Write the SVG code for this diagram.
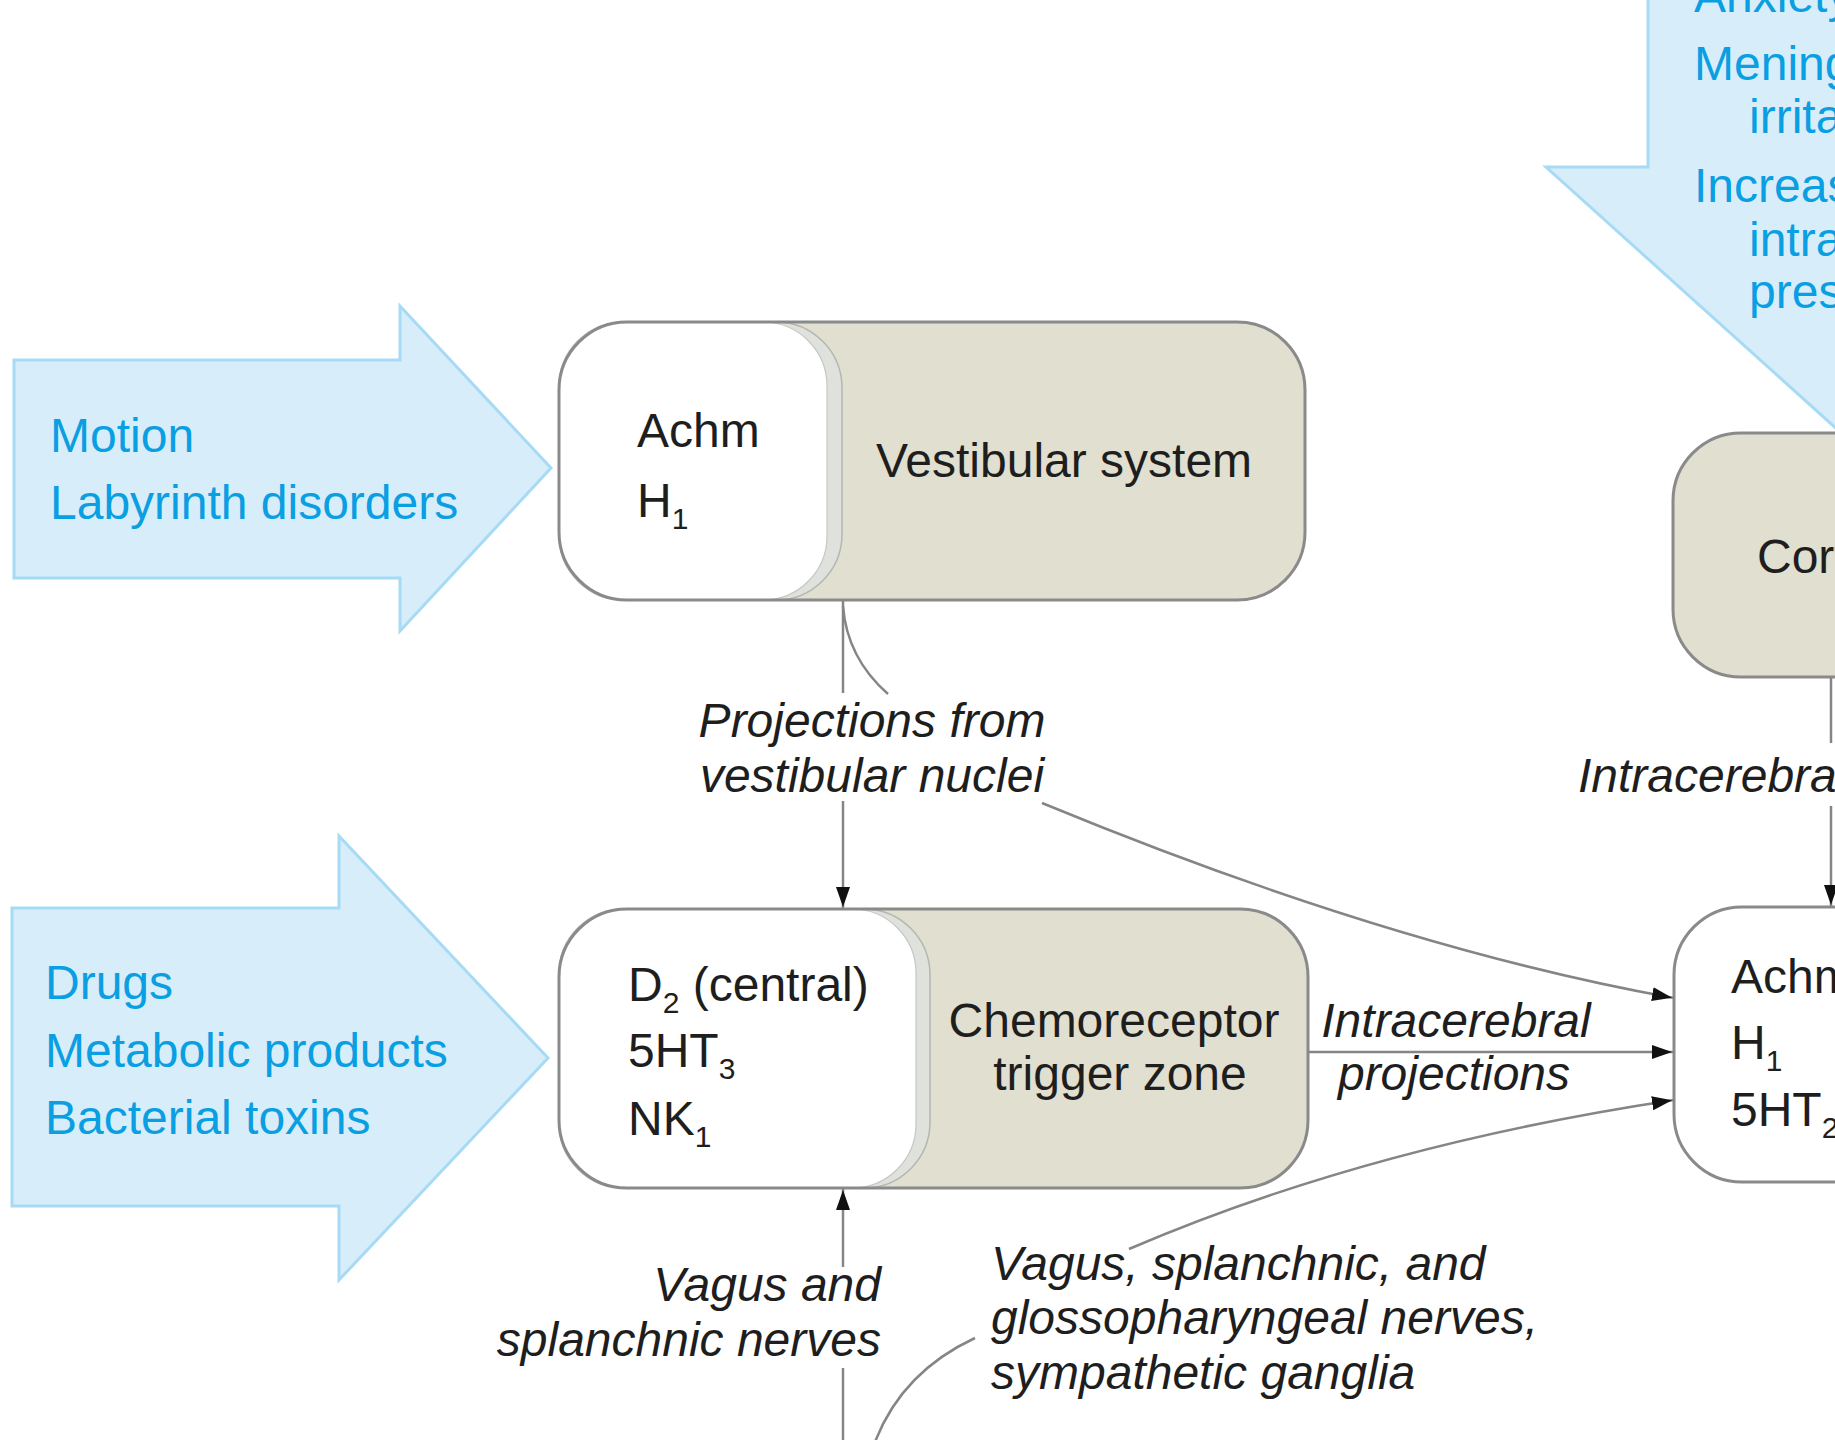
<svg xmlns="http://www.w3.org/2000/svg" width="1835" height="1440" viewBox="0 0 1835 1440">
<defs>
<style>
.bg{fill:#ffffff}
.barrow{fill:#d7eefa;stroke:#a6daf5;stroke-width:3}
.btxt{font-family:"Liberation Sans",Arial,sans-serif;font-size:48px;fill:#0a9ee2}
.ktxt{font-family:"Liberation Sans",Arial,sans-serif;font-size:48px;fill:#1e1e1e}
.itxt{font-family:"Liberation Sans",Arial,sans-serif;font-size:48px;font-style:italic;fill:#1e1e1e}
.tan{fill:#e1dfcf}
.band{fill:#dfe1dd;stroke:#b4b6b0;stroke-width:1.5}
.white{fill:#ffffff;stroke:#c6c8c3;stroke-width:1.2}
.outline{fill:none;stroke:#8a8a8a;stroke-width:3}
.conn{fill:none;stroke:#858585;stroke-width:2.5}
.sub{font-size:30px}
</style>
<marker id="ah" markerUnits="userSpaceOnUse" markerWidth="24" markerHeight="16" refX="22" refY="7" orient="auto">
<path d="M0,0 L20,7 L0,14 z" fill="#111"/>
</marker>
</defs>
<rect class="bg" x="0" y="0" width="1835" height="1440"/>

<g id="input-motion">
<polygon class="barrow" points="14,360 400,360 400,306 551,468 400,631 400,578 14,578"/>
<text class="btxt" x="50" y="452">Motion</text>
<text class="btxt" x="50" y="519">Labyrinth disorders</text>
</g>

<g id="input-drugs">
<polygon class="barrow" points="12,908 339,908 339,836 548,1058 339,1280 339,1206 12,1206"/>
<text class="btxt" x="45" y="999">Drugs</text>
<text class="btxt" x="45" y="1067">Metabolic products</text>
<text class="btxt" x="45" y="1134">Bacterial toxins</text>
</g>

<g id="input-anxiety">
<polygon class="barrow" points="1648,-10 1648,167 1546,167 1960,540 2400,167 2400,-10"/>
<text class="btxt" x="1694" y="12">Anxiety</text>
<text class="btxt" x="1694" y="80">Meningeal</text>
<text class="btxt" x="1749" y="133">irritation</text>
<text class="btxt" x="1694" y="202">Increased</text>
<text class="btxt" x="1749" y="256">intracranial</text>
<text class="btxt" x="1749" y="308">pressure</text>
</g>

<g id="node-vestibular">
<rect class="tan" x="559" y="322" width="746" height="278" rx="68"/>
<rect class="band" x="559" y="322" width="283" height="278" rx="66"/>
<rect class="white" x="559" y="322" width="268" height="278" rx="64"/>
<rect class="outline" x="559" y="322" width="746" height="278" rx="68"/>
<text class="ktxt" x="637" y="447">Achm</text>
<text class="ktxt" x="637" y="517">H<tspan class="sub" dy="12">1</tspan></text>
<text class="ktxt" x="1064" y="477" text-anchor="middle">Vestibular system</text>
</g>

<g id="node-ctz">
<rect class="tan" x="559" y="909" width="749" height="279" rx="68"/>
<rect class="band" x="559" y="909" width="371" height="279" rx="66"/>
<rect class="white" x="559" y="909" width="357" height="279" rx="64"/>
<rect class="outline" x="559" y="909" width="749" height="279" rx="68"/>
<text class="ktxt" x="628" y="1001">D<tspan class="sub" dy="12">2</tspan><tspan dy="-12"> (central)</tspan></text>
<text class="ktxt" x="628" y="1067">5HT<tspan class="sub" dy="12">3</tspan></text>
<text class="ktxt" x="628" y="1135">NK<tspan class="sub" dy="12">1</tspan></text>
<text class="ktxt" x="1114" y="1037" text-anchor="middle">Chemoreceptor</text>
<text class="ktxt" x="1120" y="1090" text-anchor="middle">trigger zone</text>
</g>

<g id="node-cortex">
<rect class="tan" x="1673" y="433" width="600" height="244" rx="68"/>
<rect class="outline" x="1673" y="433" width="600" height="244" rx="68"/>
<text class="ktxt" x="1757" y="573">Cortex</text>
</g>

<g id="node-vomiting-centre">
<rect fill="#ffffff" x="1674" y="907" width="600" height="275" rx="68"/>
<rect class="outline" x="1674" y="907" width="600" height="275" rx="68"/>
<text class="ktxt" x="1731" y="993">Achm</text>
<text class="ktxt" x="1731" y="1059">H<tspan class="sub" dy="12">1</tspan></text>
<text class="ktxt" x="1731" y="1126">5HT<tspan class="sub" dy="12">2</tspan></text>
</g>

<g id="connectors">
<line class="conn" x1="843" y1="601" x2="843" y2="693"/>
<line class="conn" x1="843" y1="801" x2="843" y2="909" marker-end="url(#ah)"/>
<path class="conn" d="M843,606 Q847,658 888,694"/>
<path class="conn" d="M1042,803 Q1391,947 1674,998" marker-end="url(#ah)"/>
<line class="conn" x1="1308" y1="1052" x2="1674" y2="1052" marker-end="url(#ah)"/>
<path class="conn" d="M875,1442 Q902,1372 975,1338"/>
<path class="conn" d="M1129,1249 Q1369,1146 1674,1100" marker-end="url(#ah)"/>
<line class="conn" x1="843" y1="1440" x2="843" y2="1368"/>
<line class="conn" x1="843" y1="1267" x2="843" y2="1188" marker-end="url(#ah)"/>
<line class="conn" x1="1831" y1="678" x2="1831" y2="743"/>
<line class="conn" x1="1831" y1="806" x2="1831" y2="907" marker-end="url(#ah)"/>
<text class="itxt" x="872" y="737" text-anchor="middle">Projections from</text>
<text class="itxt" x="872" y="792" text-anchor="middle">vestibular nuclei</text>
<text class="itxt" x="1456" y="1037" text-anchor="middle">Intracerebral</text>
<text class="itxt" x="1454" y="1090" text-anchor="middle">projections</text>
<text class="itxt" x="881" y="1301" text-anchor="end">Vagus and</text>
<text class="itxt" x="881" y="1356" text-anchor="end">splanchnic nerves</text>
<text class="itxt" x="991" y="1280">Vagus, splanchnic, and</text>
<text class="itxt" x="991" y="1334">glossopharyngeal nerves,</text>
<text class="itxt" x="991" y="1389">sympathetic ganglia</text>
<text class="itxt" x="1578" y="792">Intracerebral</text>
</g>
</svg>
